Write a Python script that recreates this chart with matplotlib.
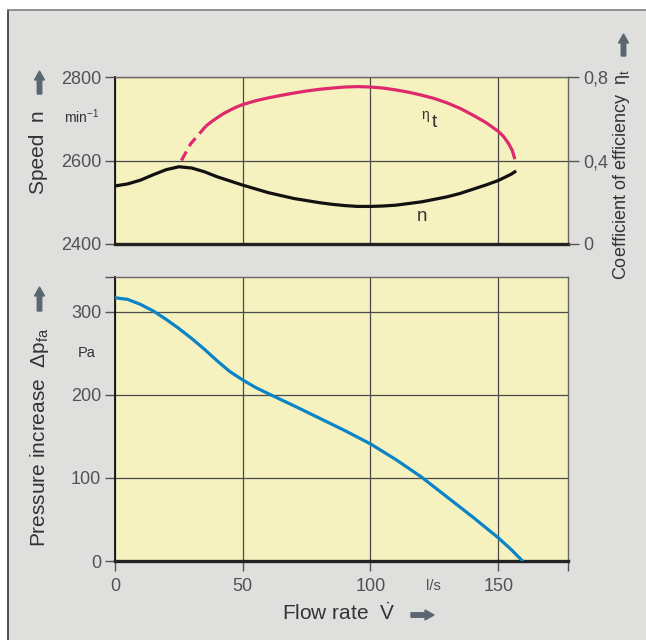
"""Fan characteristic: speed, efficiency and pressure increase vs flow rate."""

import matplotlib

matplotlib.use("Agg")
import matplotlib.pyplot as plt  # noqa: E402
from matplotlib.patches import FancyArrow, Rectangle  # noqa: E402
from matplotlib.lines import Line2D  # noqa: E402

# ---- data ------------------------------------------------------------------
flow_n = [0, 5, 10, 15, 20, 25, 30, 35, 40, 45, 50, 55, 60, 65, 70, 75, 80, 85,
          90, 95, 100, 105, 110, 115, 120, 125, 130, 135, 140, 145, 150, 155, 157]
speed_n = [2539, 2544, 2553, 2566, 2578, 2585, 2582, 2573, 2561, 2551, 2541, 2532,
           2523, 2516, 2509, 2504, 2499, 2495, 2492, 2490, 2490, 2491, 2493, 2497,
           2501, 2507, 2513, 2521, 2531, 2541, 2552, 2567, 2575]

flow_eta_dashed = [26, 29.6, 35.6]
eta_dashed = [0.40, 0.48, 0.565]
flow_eta = [35.6, 38, 40, 42.5, 45, 47.5, 50, 55, 60, 65, 70, 75, 80, 85, 90, 95,
            100, 105, 110, 115, 120, 125, 130, 135, 140, 145, 150, 152, 154,
            155.5, 156.5]
eta = [0.565, 0.588, 0.605, 0.625, 0.641, 0.656, 0.668, 0.686, 0.700, 0.712,
       0.723, 0.733, 0.741, 0.747, 0.752, 0.754, 0.752, 0.747, 0.738, 0.727,
       0.713, 0.697, 0.676, 0.650, 0.618, 0.583, 0.540, 0.516, 0.482, 0.448, 0.406]

flow_p = [0, 5, 10, 15, 20, 25, 30, 35, 40, 45, 50, 55, 60, 70, 80, 90, 100,
          110, 120, 130, 140, 150, 155, 159.5]
pressure = [317, 315, 309, 301, 291, 280, 268, 255, 241, 228, 218, 209, 201.5,
            187, 172, 157, 141, 122, 101, 77, 53, 28, 14, 0]

speed_ticks = [2400, 2600, 2800]
eta_ticks = [0, 0.4, 0.8]
eta_tick_labels = ["0", "0,4", "0,8"]
pressure_ticks = [0, 100, 200, 300]
flow_ticks = [0, 50, 100, 150]

# ---- style ------------------------------------------------------------------
plt.rcParams["font.family"] = ["Liberation Sans", "DejaVu Sans"]
plt.rcParams["mathtext.fontset"] = "custom"
plt.rcParams["mathtext.rm"] = "Liberation Sans"
plt.rcParams["mathtext.it"] = "Liberation Sans:italic"

W, H = 646, 640
BG = "#dfdfdd"
FACE = "#f6f2c0"
GRID = "#4a4a4a"
TICK_C = "#525252"
LABEL_C = "#333333"
ARROW_C = "#5b6770"
XMAX = 177.3

fig = plt.figure(figsize=(W / 100, H / 100), dpi=100)
fig.patch.set_facecolor("white")
fig.add_artist(Rectangle((8 / W, 0), 1, 1 - 10 / H, transform=fig.transFigure,
                         facecolor=BG, edgecolor="none", zorder=-10))
fig.add_artist(Line2D([8 / W, 8 / W], [0, 1 - 10 / H], transform=fig.transFigure,
                      color="#333333", lw=1.2))
fig.add_artist(Line2D([8 / W, 1], [1 - 10 / H, 1 - 10 / H], transform=fig.transFigure,
                      color="#808080", lw=1.2))


def fx(px):
    return px / W


def fy(py):
    return 1 - py / H


def ptext(x, y, s, **kw):
    kw.setdefault("color", LABEL_C)
    kw.setdefault("ha", "center")
    kw.setdefault("va", "center")
    return fig.text(fx(x), fy(y), s, **kw)


def parrow(x0, y0, x1, y1):
    fig.add_artist(FancyArrow(x0 / 100, (H - y0) / 100, (x1 - x0) / 100, -(y1 - y0) / 100,
                              width=0.045, head_width=0.10, head_length=0.09,
                              length_includes_head=True, color=ARROW_C,
                              transform=fig.dpi_scale_trans))


def style_axes(ax):
    ax.set_facecolor(FACE)
    ax.set_xlim(0, XMAX)
    for s in ("top", "right"):
        ax.spines[s].set_color("#666666")
        ax.spines[s].set_linewidth(1.0)
    ax.spines["left"].set_color("#111111")
    ax.spines["left"].set_linewidth(1.3)
    ax.spines["bottom"].set_color("#222222")
    ax.spines["bottom"].set_linewidth(2.4)
    ax.grid(True, color=GRID, lw=0.9)
    ax.set_axisbelow(True)
    ax.tick_params(axis="y", direction="out", length=7, width=1.0, color="#555555",
                   labelsize=13, labelcolor=TICK_C, pad=3)


# ---- top panel: speed and efficiency ---------------------------------------
ax1 = fig.add_axes([fx(115), fy(244), fx(568) - fx(115), fy(77) - fy(244)])
style_axes(ax1)
ax1.set_ylim(2400, 2800)
ax1.set_yticks(speed_ticks)
ax1.set_xticks(flow_ticks)
ax1.tick_params(axis="x", length=0, labelbottom=False)
ax1.plot(flow_n, speed_n, color="#111111", lw=2.3, solid_capstyle="butt", zorder=3)

ax1r = ax1.twinx()
ax1r.set_ylim(0, 0.8)
ax1r.set_yticks(eta_ticks)
ax1r.set_yticklabels(eta_tick_labels)
ax1r.tick_params(axis="y", direction="out", length=8, width=1.0, color="#555555",
                 labelsize=13, labelcolor=TICK_C, pad=3)
for s in ax1r.spines.values():
    s.set_visible(False)
ax1r.plot(flow_eta_dashed, eta_dashed, color="#de2a6c", lw=2.3, ls=(0, (3.2, 1.9)))
ax1r.plot(flow_eta, eta, color="#de2a6c", lw=2.3, solid_capstyle="butt")

ax1.text(121.3, 2709, "η", fontsize=10, color=LABEL_C, ha="center", va="center")
ax1.text(125.0, 2690, "t", fontsize=14, color=LABEL_C, ha="center", va="center")
ax1.text(120.0, 2465, "n", fontsize=13.5, color=LABEL_C, ha="center", va="center")

# ---- bottom panel: pressure increase ---------------------------------------
ax2 = fig.add_axes([fx(115), fy(561), fx(568) - fx(115), fy(277) - fy(561)])
style_axes(ax2)
ax2.set_ylim(0, 342)
ax2.set_yticks(pressure_ticks)
ax2.set_yticks([342], minor=True)
ax2.set_xticks(flow_ticks)
ax2.set_xticks([XMAX], minor=True)
ax2.tick_params(axis="y", which="minor", direction="out", length=7, width=1.0,
                color="#555555")
ax2.tick_params(axis="x", which="both", direction="out", length=7, width=1.0,
                color="#555555", labelsize=13, labelcolor=TICK_C, pad=5)
ax2.plot(flow_p, pressure, color="#0a84c6", lw=2.3, zorder=3)

# ---- axis labels, units and arrows -----------------------------------------
ptext(39, 152, "Speed  n", rotation=90, fontsize=15)
ptext(82, 117, r"min$^{\mathrm{-1}}$", fontsize=10)
parrow(39.5, 94, 39.5, 71)

ptext(40, 437, r"Pressure increase  $\Delta\mathrm{p}_{\mathrm{fa}}$", rotation=90, fontsize=15)
ptext(87, 353, "Pa", fontsize=10.5)
parrow(39.5, 311, 39.5, 287)

ptext(621, 175, r"Coefficient of efficiency  $\mathrm{η}_{\mathrm{t}}$", rotation=90,
      fontsize=13)
parrow(623.5, 56, 623.5, 34)

ptext(339, 613, r"Flow rate  $\dot{\mathrm{V}}$", fontsize=15)
parrow(411, 615, 434, 615)
ptext(433, 586, "l/s", fontsize=10.5, color=TICK_C)

fig.savefig("out.png", dpi=100, facecolor=fig.get_facecolor())
